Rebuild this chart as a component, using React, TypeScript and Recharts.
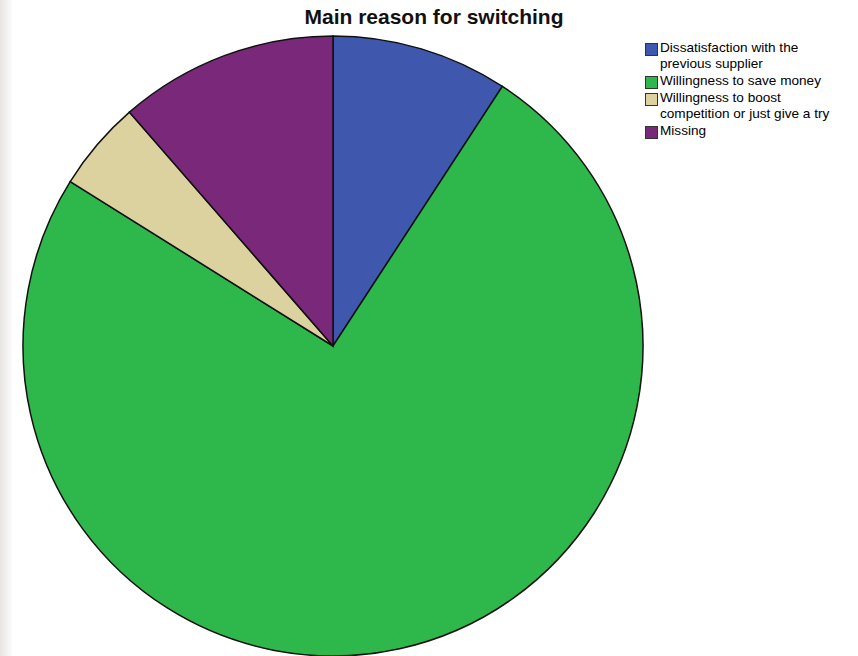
import { PieChart, Pie, Cell, Legend } from "recharts";

const reasons = [
  "Dissatisfaction with the previous supplier",
  "Willingness to save money",
  "Willingness to boost competition or just give a try",
  "Missing",
];
const shares = [9.2, 74.7, 4.7, 11.4];
const legendLines = [
  ["Dissatisfaction with the", "previous supplier"],
  ["Willingness to save money"],
  ["Willingness to boost", "competition or just give a try"],
  ["Missing"],
];
const COLORS = ["#3f58ad", "#2eb84b", "#dbd2a0", "#7a287a"];

const data = reasons.map((name, i) => ({ name, value: shares[i] }));

const renderLegend = () => (
  <div style={{ fontFamily: "Arial, 'Liberation Sans', sans-serif", fontSize: 13.6, lineHeight: "16px", color: "#000" }}>
    {legendLines.map((lines, i) => (
      <div key={i} style={{ display: "flex", alignItems: "flex-start", marginBottom: 1 }}>
        <div
          style={{
            width: 11,
            height: 11,
            marginTop: 3,
            marginRight: 2,
            background: COLORS[i],
            border: "1px solid #333",
            flexShrink: 0,
          }}
        />
        <div>
          {lines.map((l, j) => (
            <div key={j}>{l}</div>
          ))}
        </div>
      </div>
    ))}
  </div>
);

export default function App() {
  return (
    <div style={{ position: "absolute", left: 0, top: 0, width: 858, height: 656, background: "#fff", overflow: "hidden" }}>
      <div
        style={{
          position: "absolute",
          left: 0,
          top: 0,
          width: 12,
          height: 656,
          background: "linear-gradient(to right, #e8e6e4, #fbfbfb)",
        }}
      />
      <div
        style={{
          position: "absolute",
          left: 0,
          width: 868,
          top: 5,
          textAlign: "center",
          fontFamily: "Arial, 'Liberation Sans', sans-serif",
          fontWeight: "bold",
          fontSize: 21,
          color: "#111",
        }}
      >
        Main reason for switching
      </div>
      <PieChart
        width={858}
        height={656}
        margin={{ top: 0, right: 0, bottom: 0, left: 0 }}
        style={{ position: "absolute", left: 0, top: 0 }}
      >
        <Pie
          data={data}
          dataKey="value"
          nameKey="name"
          cx={333}
          cy={346}
          innerRadius={0}
          outerRadius={310}
          startAngle={90}
          endAngle={-270}
          stroke="#111"
          strokeWidth={1.5}
          isAnimationActive={false}
        >
          {data.map((_e, i) => (
            <Cell key={`cell-${i}`} fill={COLORS[i]} />
          ))}
        </Pie>
        <Legend
          layout="vertical"
          verticalAlign="top"
          align="right"
          content={renderLegend}
          wrapperStyle={{ top: 40, left: 645, width: 212 }}
        />
      </PieChart>
    </div>
  );
}
